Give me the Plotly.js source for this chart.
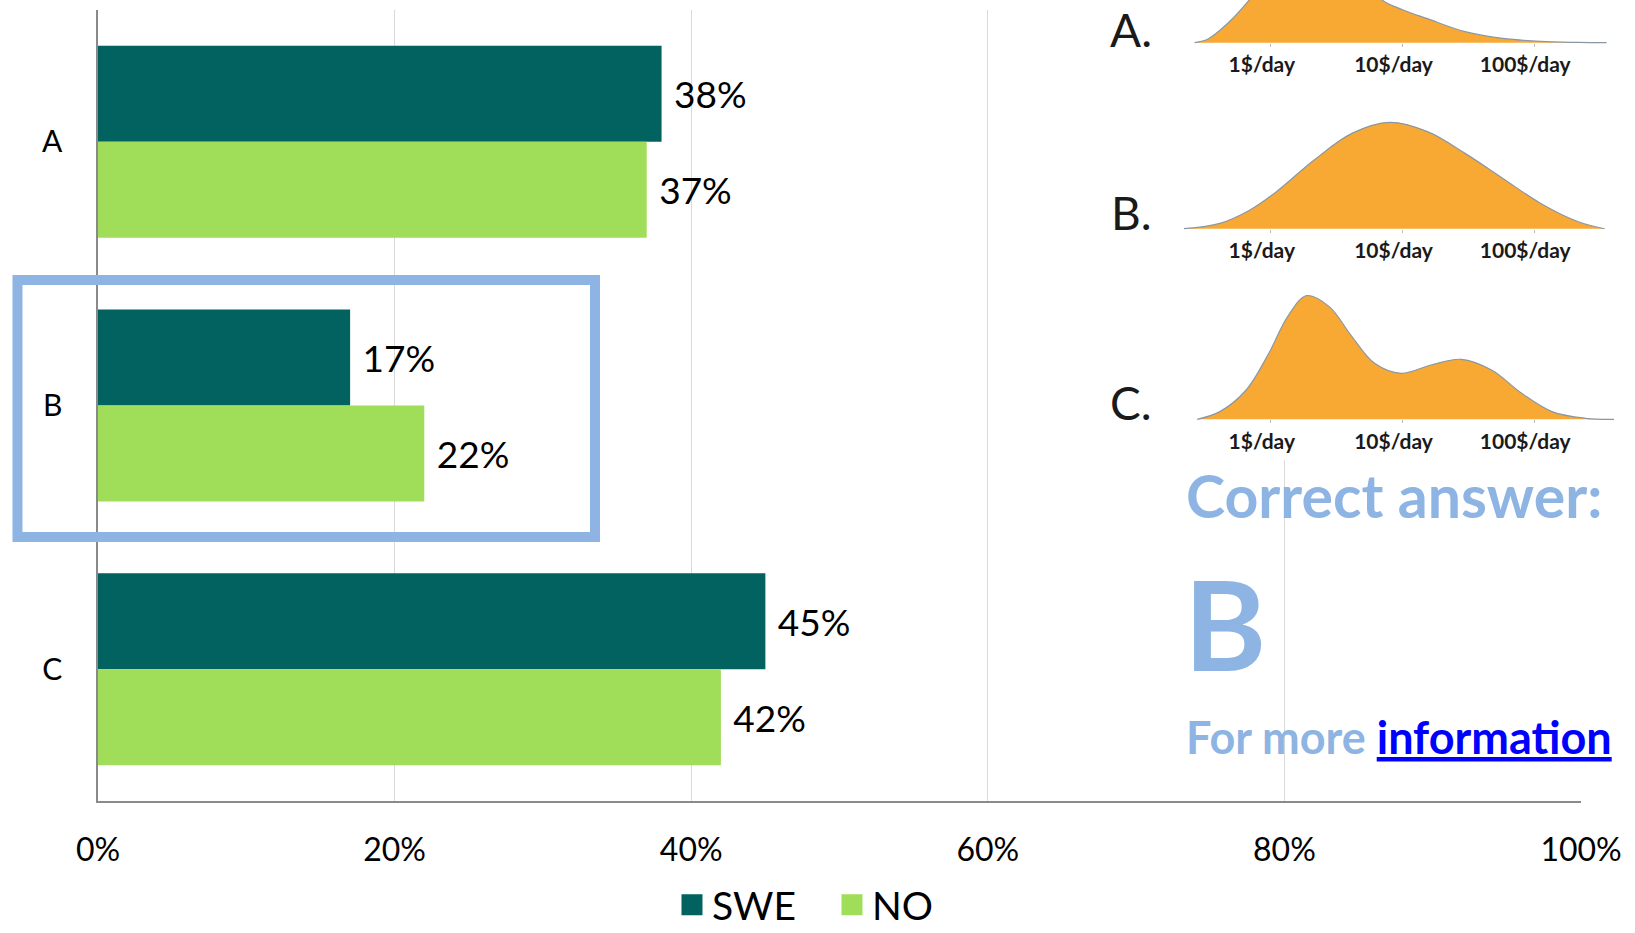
<!DOCTYPE html>
<html><head><meta charset="utf-8">
<script src="https://cdn.plot.ly/plotly-3.0.1.min.js"></script>
<style>html,body{margin:0;padding:0;background:#fff;} #chart{width:1635px;height:933px;}</style>
</head><body><div id="chart"></div>
<script>
// ---- main bar chart data ----
const categories = ['A', 'B', 'C'];
const seriesNames = ['SWE', 'NO'];
const sweValues = [38, 17, 45];
const noValues = [37, 22, 42];
const xTickVals = [0, 20, 40, 60, 80, 100];
const xTickText = ['0%', '20%', '40%', '60%', '80%', '100%'];

// ---- income distribution sketches (log10 of $/day, height) ----
const incomeTickVals = [0, 1, 2];
const incomeTickText = ['1$/day', '10$/day', '100$/day'];
const distALog = [-0.579, -0.473, -0.330, -0.187, -0.05, 0.15, 0.35, 0.55, 0.70, 0.845, 1.0, 1.189, 1.475, 1.762, 2.048, 2.335, 2.55];
const distAHeight = [0, 4, 19, 39, 62, 85, 95, 85, 65, 42.7, 33, 24, 11, 4.3, 1.3, 0.3, 0];
const distBLog = [-0.659, -0.387, -0.158, 0.043, 0.329, 0.616, 0.902, 1.19, 1.475, 1.762, 2.05, 2.335, 2.535];
const distBHeight = [0, 5.3, 18.7, 37, 68.7, 95.3, 106.3, 97, 75.3, 50.3, 25.3, 7, 0];
const distCLog = [-0.559, -0.387, -0.187, -0.015, 0.128, 0.272, 0.444, 0.616, 0.788, 0.989, 1.217, 1.446, 1.676, 1.905, 2.135, 2.39, 2.606];
const distCHeight = [0, 7.7, 29.3, 66, 102.7, 123.7, 112.7, 82.7, 56, 46, 54.3, 60, 49.3, 26, 7.7, 1, 0];
const distLabels = ['A.', 'B.', 'C.'];

const FONT = 'Lato, "Open Sans", sans-serif';
const SWE_COLOR = '#02625F';
const NO_COLOR = '#A0DE5A';
const ORANGE = '#F8A933';
const LIGHTBLUE = '#8DB4E2';
const colors = [SWE_COLOR, NO_COLOR];

const barText = {
  textposition: 'outside',
  cliponaxis: false,
  textfont: {family: FONT, size: 37, color: '#000'},
  texttemplate: '\u00a0%{x}%',
  hoverinfo: 'skip',
  showlegend: false
};

const traces = [
  Object.assign({type: 'bar', orientation: 'h', name: seriesNames[0], legendgroup: 'swe', x: sweValues, y: categories,
    marker: {color: SWE_COLOR}}, barText),
  Object.assign({type: 'bar', orientation: 'h', name: seriesNames[1], legendgroup: 'no', x: noValues, y: categories,
    marker: {color: NO_COLOR}}, barText)
];

// legend entries (larger square swatches)
seriesNames.forEach((nm, i) => {
  traces.push({
    type: 'scatter', mode: 'markers', name: nm, legendgroup: i === 0 ? 'swe' : 'no',
    x: [null], y: [null],
    marker: {symbol: 'square', size: 16, color: colors[i], line: {color: colors[i], width: 5}},
    hoverinfo: 'skip'
  });
});

const dists = [[distALog, distAHeight], [distBLog, distBHeight], [distCLog, distCHeight]];
dists.forEach((d, i) => {
  traces.push({
    type: 'scatter', mode: 'lines', x: d[0], y: d[1],
    xaxis: 'x' + (i + 2), yaxis: 'y' + (i + 2),
    line: {shape: 'spline', smoothing: 1, color: '#8a97a3', width: 1.2},
    fill: 'tozeroy', fillcolor: ORANGE, showlegend: false, hoverinfo: 'skip'
  });
});

// layout geometry for the sketches
const distDomainsY = [[0.8752, 1], [0.6504, 0.8752], [0.4257, 0.6504]];
const distRangesY = [[-57.3, 42.7], [-51.3, 128.7], [-40.7, 139.3]];
const distAxisPos = [0.9467, 0.7145, 0.4765];
const distLabelY = [0.9632, 0.7341, 0.4981];

const layout = {
  width: 1635, height: 933,
  margin: {l: 98, r: 12, t: 0, b: 132, autoexpand: false},
  paper_bgcolor: '#fff', plot_bgcolor: '#fff',
  font: {family: FONT, color: '#000'},
  barmode: 'group', bargap: 0.272, bargroupgap: 0,
  xaxis: {
    domain: [0, 0.9725], range: [0, 100], tickvals: xTickVals, ticktext: xTickText,
    showgrid: true, gridcolor: '#D9D9D9', gridwidth: 1.3, zeroline: false,
    showline: true, linecolor: '#8a8a8a', linewidth: 1.6,
    ticks: '', ticklabelstandoff: 20, tickfont: {family: FONT, size: 32, color: '#000'}
  },
  yaxis: {
    domain: [0, 0.98752], categoryorder: 'array', categoryarray: categories,
    autorange: 'reversed', showgrid: false, zeroline: false,
    showline: true, linecolor: '#8a8a8a', linewidth: 1.6,
    ticks: '', ticklabelstandoff: 28, tickfont: {family: FONT, size: 30, color: '#000'}
  },
  legend: {
    orientation: 'h', xref: 'container', yref: 'container',
    x: 0.411, xanchor: 'left', y: 0.03, yanchor: 'middle',
    font: {family: FONT, size: 39, color: '#000'},
    entrywidth: 115, entrywidthmode: 'pixels', traceorder: 'normal', itemsizing: 'trace',
    bgcolor: 'rgba(0,0,0,0)', tracegroupgap: 0
  },
  shapes: [{
    type: 'rect', xref: 'paper', yref: 'paper',
    x0: -0.0528, x1: 0.3259, y0: 0.3296, y1: 0.6504,
    line: {color: LIGHTBLUE, width: 10}, fillcolor: 'rgba(0,0,0,0)', layer: 'above'
  }],
  annotations: [],
  showlegend: true
};

for (let i = 0; i < 3; i++) {
  const n = i + 2;
  layout['xaxis' + n] = {
    domain: [0.7086, 0.9979], range: [-0.7, 2.65], anchor: 'free', position: distAxisPos[i],
    tickvals: incomeTickVals, ticktext: incomeTickText,
    showgrid: false, zeroline: false, showline: false,
    ticks: 'outside', ticklen: 3, tickcolor: '#b5bcc4', tickwidth: 1,
    ticklabelstandoff: 0, ticklabelshift: -9,
    tickfont: {family: FONT, size: 21, color: '#1a1a1a', weight: 'bold'}
  };
  layout['yaxis' + n] = {
    domain: distDomainsY[i], range: distRangesY[i], anchor: 'x' + n, visible: false
  };
  layout.annotations.push({
    xref: 'paper', yref: 'paper', x: 0.6774, y: distLabelY[i], xanchor: 'center', yanchor: 'middle',
    text: distLabels[i], showarrow: false, font: {family: FONT, size: 46, color: '#1a1a1a'}
  });
}

layout.annotations.push({
  xref: 'paper', yref: 'paper', x: 0.7121, y: 0.3808, xanchor: 'left', yanchor: 'middle',
  text: '<b>Correct answer:</b>', showarrow: false, font: {family: FONT, size: 59, color: LIGHTBLUE}
});
layout.annotations.push({
  xref: 'paper', yref: 'paper', x: 0.7108, y: 0.2228, xanchor: 'left', yanchor: 'middle',
  text: '<b>B</b>', showarrow: false, font: {family: FONT, size: 125, color: LIGHTBLUE}
});
layout.annotations.push({
  xref: 'paper', yref: 'paper', x: 0.7121, y: 0.0805, xanchor: 'left', yanchor: 'middle',
  text: '<b>For more <span style="color:#0000FF;text-decoration:underline">information</span></b>',
  showarrow: false, font: {family: FONT, size: 45, color: LIGHTBLUE}
});

Plotly.newPlot('chart', traces, layout, {displayModeBar: false, staticPlot: true});
</script></body></html>
